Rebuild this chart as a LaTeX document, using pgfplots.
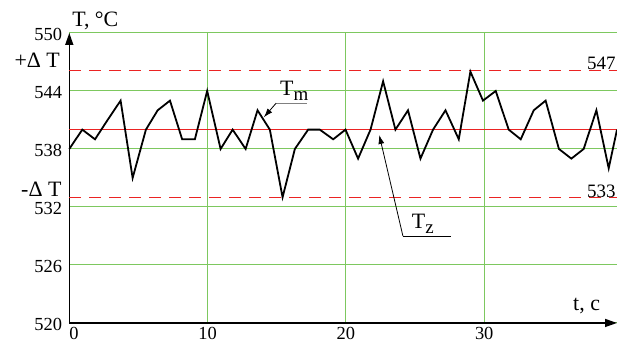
\documentclass[border=0pt]{standalone}
\usepackage{pgfplots}
\pgfplotsset{compat=1.18}
\usepackage{fontspec}
\setmainfont{Liberation Serif}
\usetikzlibrary{arrows.meta}
\definecolor{gridgreen}{RGB}{125,200,95}
\definecolor{myred}{RGB}{235,35,35}
\begin{document}
\begin{tikzpicture}
\begin{axis}[
 scale only axis, width=547.7bp, height=290bp,
 xmin=0, xmax=39.6, ymin=520, ymax=550,
 enlargelimits=false,
 axis lines=left,
 axis line style={line width=1.5bp, -{Triangle[length=12bp,width=8bp]}},
 xtick={0,10,20,30}, ytick={520,526,532,538,544,550},
 xticklabels={\makebox[0pt][l]{0},10,20,30},
 major tick length=0pt,
 grid=major,
 major grid style={gridgreen, line width=1bp},
 tick label style={font=\fontsize{18.5}{18.5}\selectfont},
 /pgf/number format/assume math mode=true,
 yticklabel style={anchor=east, inner sep=0pt, xshift=-7bp, yshift=-1.5bp},
 xticklabel style={anchor=north, inner sep=0pt, yshift=-4bp},
 clip=false,
]
\addplot[myred, line width=0.9bp, dash pattern=on 12bp off 8bp] coordinates {(0,546.1) (39.6,546.1)};
\addplot[myred, line width=0.9bp, dash pattern=on 12bp off 8bp] coordinates {(0,533) (39.6,533)};
\addplot[myred, line width=0.9bp] coordinates {(0,540) (39.6,540)};
\addplot[black, line width=1.8bp] coordinates {
(0,538) (0.94,540) (1.86,539) (2.77,541) (3.71,543) (4.58,535) (5.54,540) (6.39,542)
(7.28,543) (8.16,539) (9.08,539) (9.97,544) (10.94,538) (11.81,540) (12.75,538) (13.61,542)
(14.50,540) (15.42,533) (16.31,538) (17.27,540) (18.11,540) (19.08,539) (19.97,540) (20.88,537)
(21.78,540) (22.69,545) (23.58,540) (24.49,542) (25.39,537) (26.30,540) (27.20,542) (28.16,539)
(29.00,546) (29.91,543) (30.83,544) (31.77,540) (32.64,539) (33.58,542) (34.44,543) (35.40,538)
(36.30,537) (37.19,538) (38.11,542) (39.00,536) (39.60,540)
};
\node[anchor=base west, inner sep=0pt, font=\fontsize{22}{22}\selectfont] at (axis cs:0.2,550.65) {T, °C};
\node[anchor=base east, inner sep=0pt, font=\fontsize{22}{22}\selectfont] at (axis cs:-0.67,546.38) {+Δ T};
\node[anchor=base east, inner sep=0pt, font=\fontsize{22}{22}\selectfont] at (axis cs:-0.55,533.07) {-Δ T};
\node[anchor=base west, inner sep=0pt, font=\fontsize{19}{19}\selectfont] at (axis cs:37.43,546.17) {547};
\node[anchor=base west, inner sep=0pt, font=\fontsize{19}{19}\selectfont] at (axis cs:37.43,533.0) {533};
\node[anchor=base west, inner sep=0pt, font=\fontsize{22}{22}\selectfont] at (axis cs:36.42,521.24) {t, c};
\node[anchor=base west, inner sep=0pt, font=\fontsize{22}{22}\selectfont] at (axis cs:15.23,543.48) {T\raisebox{-4.5bp}{\fontsize{19}{19}\selectfont m}};
\draw[gray, line width=1.2bp] (axis cs:14.95,542.73) -- (axis cs:17.19,542.73);
\draw[black, line width=0.8bp, -{Latex[length=9bp,width=6bp]}] (axis cs:14.95,542.73) -- (axis cs:14.07,541.28);
\node[anchor=base west, inner sep=0pt, font=\fontsize{22}{22}\selectfont] at (axis cs:24.76,529.8) {T\raisebox{-5bp}{\fontsize{19}{19}\selectfont z}};
\draw[black, line width=0.8bp] (axis cs:24.12,529.0) -- (axis cs:27.59,529.0);
\draw[black, line width=0.8bp, -{Latex[length=9bp,width=6bp]}] (axis cs:24.12,529.0) -- (axis cs:22.41,539.45);
\coordinate (bbsw) at (axis cs:-5.01,517.93);
\coordinate (bbne) at (axis cs:39.6,553.41);
\end{axis}
\pgfresetboundingbox
\useasboundingbox (bbsw) rectangle (bbne);
\end{tikzpicture}
\end{document}
